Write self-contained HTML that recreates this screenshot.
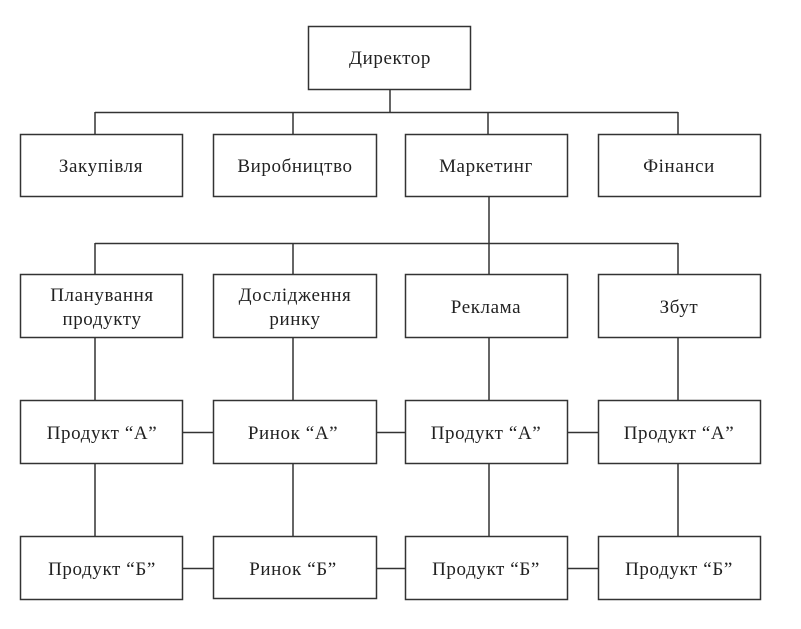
<!DOCTYPE html>
<html><head><meta charset="utf-8"><style>
body{margin:0;background:#fff;}
</style></head><body>
<svg width="801" height="624" xmlns="http://www.w3.org/2000/svg" font-family="Liberation Serif, serif" font-size="19" letter-spacing="0.6" fill="#222">
<g stroke="#333" stroke-width="1.5" fill="none">
<rect x="308.5" y="26.5" width="162" height="63"/>
<line x1="390" y1="89" x2="390" y2="112"/>
<line x1="95" y1="112.5" x2="678" y2="112.5"/>
<line x1="95" y1="112" x2="95" y2="134"/>
<line x1="293" y1="112" x2="293" y2="134"/>
<line x1="488" y1="112" x2="488" y2="134"/>
<line x1="678" y1="112" x2="678" y2="134"/>
<rect x="20.5" y="134.5" width="162" height="62"/>
<rect x="213.5" y="134.5" width="163" height="62"/>
<rect x="405.5" y="134.5" width="162" height="62"/>
<rect x="598.5" y="134.5" width="162" height="62"/>
<line x1="489" y1="196" x2="489" y2="274"/>
<line x1="95" y1="243.5" x2="678" y2="243.5"/>
<line x1="95" y1="243" x2="95" y2="274"/>
<line x1="293" y1="243" x2="293" y2="274"/>
<line x1="678" y1="243" x2="678" y2="274"/>
<rect x="20.5" y="274.5" width="162" height="63"/>
<rect x="213.5" y="274.5" width="163" height="63"/>
<rect x="405.5" y="274.5" width="162" height="63"/>
<rect x="598.5" y="274.5" width="162" height="63"/>
<line x1="95" y1="337" x2="95" y2="400"/>
<line x1="293" y1="337" x2="293" y2="400"/>
<line x1="489" y1="337" x2="489" y2="400"/>
<line x1="678" y1="337" x2="678" y2="400"/>
<rect x="20.5" y="400.5" width="162" height="63"/>
<rect x="213.5" y="400.5" width="163" height="63"/>
<rect x="405.5" y="400.5" width="162" height="63"/>
<rect x="598.5" y="400.5" width="162" height="63"/>
<line x1="182" y1="432.5" x2="213" y2="432.5"/>
<line x1="376" y1="432.5" x2="405" y2="432.5"/>
<line x1="567" y1="432.5" x2="598" y2="432.5"/>
<line x1="95" y1="463" x2="95" y2="536"/>
<line x1="293" y1="463" x2="293" y2="536"/>
<line x1="489" y1="463" x2="489" y2="536"/>
<line x1="678" y1="463" x2="678" y2="536"/>
<rect x="20.5" y="536.5" width="162" height="63"/>
<rect x="213.5" y="536.5" width="163" height="62"/>
<rect x="405.5" y="536.5" width="162" height="63"/>
<rect x="598.5" y="536.5" width="162" height="63"/>
<line x1="182" y1="568.5" x2="213" y2="568.5"/>
<line x1="376" y1="568.5" x2="405" y2="568.5"/>
<line x1="567" y1="568.5" x2="598" y2="568.5"/>
</g>
<g text-anchor="middle">
<text x="390" y="64">Директор</text>
<text x="101" y="172">Закупівля</text>
<text x="295" y="172">Виробництво</text>
<text x="486" y="172">Маркетинг</text>
<text x="679" y="172">Фінанси</text>
<text x="102" y="301">Планування</text>
<text x="102" y="325">продукту</text>
<text x="295" y="301">Дослідження</text>
<text x="295" y="325">ринку</text>
<text x="486" y="313">Реклама</text>
<text x="679" y="313">Збут</text>
<text x="102" y="439">Продукт “А”</text>
<text x="293" y="439">Ринок “А”</text>
<text x="486" y="439">Продукт “А”</text>
<text x="679" y="439">Продукт “А”</text>
<text x="102" y="575">Продукт “Б”</text>
<text x="293" y="575">Ринок “Б”</text>
<text x="486" y="575">Продукт “Б”</text>
<text x="679" y="575">Продукт “Б”</text>
</g>
</svg>
</body></html>
